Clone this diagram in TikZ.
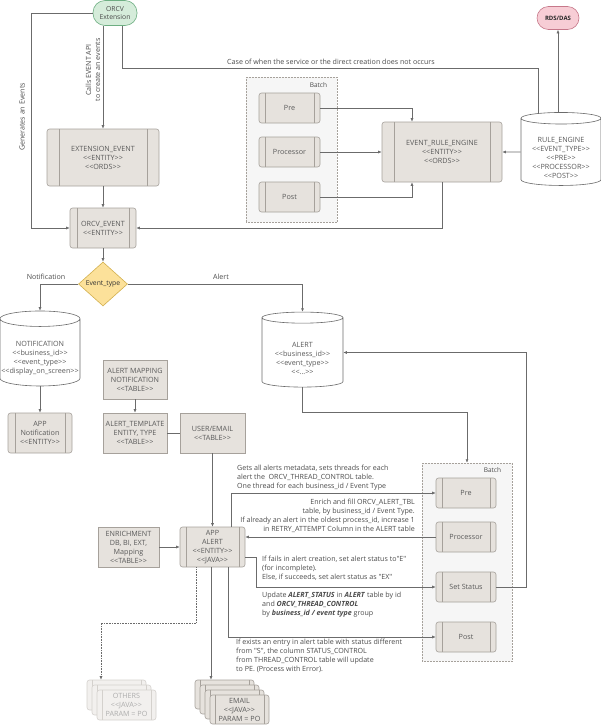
\documentclass[tikz,border=0pt]{standalone}
\usepackage{fontspec}
\newfontfamily\osans{Open Sans}
\usetikzlibrary{arrows.meta,shapes.geometric}
\definecolor{bf}{HTML}{E6E2DD}
\definecolor{bd}{HTML}{A6A19B}
\definecolor{ln}{HTML}{6B6B6B}
\definecolor{tx}{HTML}{4A4A4A}
\definecolor{btx}{HTML}{5A5A5A}
\definecolor{gf}{HTML}{D5ECDA}
\definecolor{gd}{HTML}{6DAE82}
\definecolor{pf}{HTML}{F7CDD5}
\definecolor{pd}{HTML}{C6788A}
\definecolor{yf}{HTML}{FCE19A}
\definecolor{yd}{HTML}{D2B04E}
\definecolor{batchf}{HTML}{F6F6F6}
\definecolor{ff}{HTML}{F2F0EE}
\definecolor{fd}{HTML}{D4D1CD}
\definecolor{ftx}{HTML}{ADADAD}
\newcommand\Lg{<\kern0pt<}
\newcommand\Rg{>\kern0pt>}
\newcommand\cyltop{\rule{0pt}{17pt}}
\begin{document}
\begin{tikzpicture}[x=1pt,y=-1pt,
  font=\osans\fontsize{7.2}{9}\selectfont,
  every node/.style={text=btx, inner sep=0pt},
  proc/.style={rectangle, rounded corners=2.5pt, draw=bd, fill=bf, line width=0.6pt, align=center,
    path picture={\draw[bd, line width=0.9pt]
      ([xshift=#1]path picture bounding box.north west) -- ([xshift=#1]path picture bounding box.south west)
      ([xshift=-#1]path picture bounding box.north east) -- ([xshift=-#1]path picture bounding box.south east);}},
  proc/.default=7pt,
  fproc/.style={proc=#1, draw=fd, fill=ff, text=ftx,
    path picture={\draw[fd, line width=0.9pt]
      ([xshift=#1]path picture bounding box.north west) -- ([xshift=#1]path picture bounding box.south west)
      ([xshift=-#1]path picture bounding box.north east) -- ([xshift=-#1]path picture bounding box.south east);}},
  tbl/.style={rectangle, draw=bd, fill=bf, line width=0.6pt, align=center},
  cyl/.style={cylinder, shape border rotate=90, aspect=0.2, draw=ln, fill=white, line width=0.6pt, align=center},
  batch/.style={rectangle, draw=bd, densely dotted, fill=batchf, line width=0.5pt},
  arr/.style={draw=ln, line width=0.6pt, -{Latex[length=3.5pt,width=3pt]}},
  lin/.style={draw=ln, line width=0.6pt},
  lbl/.style={text=tx, font=\osans\fontsize{7.1}{9}\selectfont, align=left},
]
\useasboundingbox (0,0) rectangle (601,726);

% batch groups
\node[batch, minimum width=91pt, minimum height=145pt] (batch1) at (291.5,149.5) {};
\node[lbl, anchor=north east, font=\osans\fontsize{6.5}{8}\selectfont] at ([xshift=-10pt,yshift=-6pt]batch1.north east) {Batch};
\node[batch, minimum width=90pt, minimum height=198pt] (batch2) at (467,562) {};
\node[lbl, anchor=north east, font=\osans\fontsize{6.5}{8}\selectfont] at ([xshift=-11pt,yshift=-5pt]batch2.north east) {Batch};

% top nodes
\node[rectangle, rounded corners=12pt, draw=gd, fill=gf, line width=0.6pt, minimum width=44pt, minimum height=25pt, align=center, text=tx,
  font=\osans\fontsize{6.8}{8}\selectfont] (orcvext) at (115,13) {ORCV\\Extension};
\node[rectangle, rounded corners=11.5pt, draw=pd, fill=pf, line width=0.6pt, minimum width=42pt, minimum height=23pt, text=black!85,
  font=\osans\bfseries\fontsize{6}{8}\selectfont] (rds) at (558,18) {RDS/DAS};

\node[proc=12pt, minimum width=112pt, minimum height=57pt] (extevent) at (103,157.5) {EXTENSION\_EVENT\\\Lg ENTITY\Rg\\\Lg ORDS\Rg};
\node[proc=7pt, minimum width=66pt, minimum height=40pt] (orcvevent) at (103,228) {ORCV\_EVENT\\\Lg ENTITY\Rg};

\node[proc=6pt, minimum width=61pt, minimum height=30pt] (pre1) at (289.5,108) {Pre};
\node[proc=6pt, minimum width=61pt, minimum height=30pt] (proc1) at (289.5,152) {Processor};
\node[proc=6pt, minimum width=61pt, minimum height=30pt] (post1) at (289.5,197) {Post};

\node[proc=12pt, minimum width=120pt, minimum height=60pt] (ere) at (442,152) {EVENT\_RULE\_ENGINE\\\Lg ENTITY\Rg\\\Lg ORDS\Rg};
\node[cyl, minimum width=80pt, minimum height=73pt] (rulecyl) at (561,152) {\cyltop RULE\_ENGINE\\\Lg EVENT\_TYPE\Rg\\\Lg PRE\Rg\\\Lg PROCESSOR\Rg\\\Lg POST\Rg};

\node[diamond, draw=yd, fill=yf, line width=0.6pt, minimum width=49pt, minimum height=44pt, text=black!80,
  font=\osans\fontsize{6.8}{8}\selectfont] (etype) at (103,284) {Event\_type};

\node[cyl, minimum width=80pt, minimum height=75pt] (notif) at (40,352.5) {\cyltop NOTIFICATION\\\Lg business\_id\Rg\\\Lg event\_type\Rg\\\Lg display\_on\_screen\Rg};
\node[cyl, minimum width=81pt, minimum height=75pt] (alert) at (302.5,352.5) {\cyltop ALERT\\\Lg business\_id\Rg\\\Lg event\_type\Rg\\\Lg ...\Rg};

\node[tbl, minimum width=64pt, minimum height=39pt] (alertmap) at (135,379.5) {ALERT MAPPING\\NOTIFICATION\\\Lg TABLE\Rg};
\node[tbl, minimum width=64pt, minimum height=40pt] (alerttpl) at (135,433) {ALERT\_TEMPLATE\\ENTITY, TYPE\\\Lg TABLE\Rg};
\node[tbl, minimum width=65pt, minimum height=40pt] (useremail) at (212.5,433) {USER/EMAIL\\\Lg TABLE\Rg};
\node[proc=7pt, minimum width=64pt, minimum height=40pt] (appnotif) at (40,433) {APP\\Notification\\\Lg ENTITY\Rg};

\node[tbl, minimum width=61pt, minimum height=40pt] (enrich) at (128.5,547) {ENRICHMENT\\DB, BI, EXT,\\Mapping\\\Lg TABLE\Rg};
\node[proc=6pt, minimum width=65pt, minimum height=40pt] (appalert) at (212.5,547) {APP\\ALERT\\\Lg ENTITY\Rg\\\Lg JAVA\Rg};

\node[proc=6pt, minimum width=60pt, minimum height=30pt] (pre2) at (466,493) {Pre};
\node[proc=6pt, minimum width=60pt, minimum height=30pt] (proc2) at (466,537) {Processor};
\node[proc=6pt, minimum width=60pt, minimum height=30pt] (setst) at (466,587) {Set Status};
\node[proc=6pt, minimum width=60pt, minimum height=30pt] (post2) at (466,637) {Post};

% stacks
\node[fproc=5pt, minimum width=59pt, minimum height=30pt] (others1) at (116.5,695) {};
\node[fproc=5pt, minimum width=59pt, minimum height=30pt] (others2) at (121.5,700) {};
\node[fproc=5pt, minimum width=59pt, minimum height=30pt] (others3) at (126.5,705) {OTHERS\\\Lg JAVA\Rg\\PARAM = PO};

\node[proc=5pt, minimum width=59pt, minimum height=29pt] (email1) at (224.5,694.5) {};
\node[proc=5pt, minimum width=59pt, minimum height=29pt] (email2) at (229.5,699.5) {};
\node[proc=5pt, minimum width=59pt, minimum height=29pt] (email3) at (234.5,704.5) {};
\node[proc=5pt, minimum width=59pt, minimum height=29pt] (email4) at (239.5,709.5) {EMAIL\\\Lg JAVA\Rg\\PARAM = PO};

% connectors top
\draw[arr] (orcvext.west) -| ([xshift=-38pt]orcvevent.west) -- (orcvevent.west);
\node[lbl, rotate=90] at (22,117) {Generates an Events};
\draw[arr] (orcvext.south -| extevent.north) -- (extevent.north);
\node[lbl, rotate=90, align=center] at (93,70) {Calls EVENT API\\to create an events};
\draw[arr] (extevent.south) -- (orcvevent.north);
\draw[arr] (ere.south) |- (orcvevent.east);
\draw[arr] (pre1.east) -| ([xshift=-30pt]ere.north);
\draw[arr] (proc1.east) -- (ere.west);
\draw[arr] (post1.east) -| ([xshift=-30pt]ere.south);
\draw[arr] (rulecyl.west) -- (ere.east);
\draw[arr] (rulecyl.north -| rds.south) -- (rds.south);
\coordinate (cA) at (122,68);
\draw[lin] ([xshift=-23pt,yshift=-1.5pt]rulecyl.north) |- (cA) -- (cA |- orcvext.south);
\node[lbl] at (331,61.5) {Case of when the service or the direct creation does not occurs};

% middle
\draw[arr] (orcvevent.south) -- (etype.north);
\draw[arr] (etype.west) -| (notif.north);
\draw[arr] (etype.east) -| (alert.north);
\node[lbl] at (46,277) {Notification};
\node[lbl] at (221,277) {Alert};
\draw[arr] (notif.south) -- (appnotif.north);
\draw[arr] (alertmap.south) -- (alerttpl.north);
\draw[lin] (alerttpl.east) -- (useremail.west);
\draw[arr] (useremail.south) -- (appalert.north);
\draw[arr] (enrich.east) -- (appalert.west);
\coordinate (cB) at (467,412);
\draw[arr] (alert.south) |- (cB) -- (cB |- batch2.north);
\coordinate (cC) at (526,0);
\draw[arr] (setst.east) -| (alert.east -| cC) -- (alert.east);

% bottom
\coordinate (cG) at (231,0);
\draw[arr] (cG |- appalert.north) |- (pre2.west);
\node[lbl, anchor=north west] at (237,464.5) {Gets all alerts metadata, sets threads for each\\alert the \ ORCV\_THREAD\_CONTROL table.\\One thread for each business\_id / Event Type};
\draw[arr] (proc2.west) -- (proc2.west -| appalert.east);
\node[lbl, anchor=north east, align=right] at (415,499) {Enrich and fill ORCV\_ALERT\_TBL\\table, by business\_id / Event Type.\\If already an alert in the oldest process\_id, increase 1\\in RETRY\_ATTEMPT Column in the ALERT table};
\draw[arr] ([yshift=-10pt]appalert.east) -- ++(11,0) |- (setst.west);
\node[lbl, anchor=north west] at (262,556) {If fails in alert creation, set alert status to"E"\\(for incomplete).\\Else, if succeeds, set alert status as "EX"};
\node[lbl, anchor=north west] at (262,592) {Update \textbf{\textit{ALERT\_STATUS}} in \textbf{\textit{ALERT}} table by id\\and \textbf{\textit{ORCV\_THREAD\_CONTROL}}\\by \textbf{\textit{business\_id / event type}} group};
\coordinate (cH) at (228,0);
\draw[arr] (cH |- appalert.south) |- (post2.west);
\node[lbl, anchor=north west] at (236,639) {If exists an entry in alert table with status different\\from "S", the column STATUS\_CONTROL\\from THREAD\_CONTROL table will update\\to PE. (Process with Error).};
\coordinate (cD) at (211,0);
\draw[arr] (cD |- appalert.south) -- (cD |- email1.north);
\coordinate (cE) at (196,0);
\coordinate (cF) at (101,623);
\draw[arr, densely dotted] (cE |- appalert.south) |- (cF) -- (cF |- others1.north);
\end{tikzpicture}
\end{document}
